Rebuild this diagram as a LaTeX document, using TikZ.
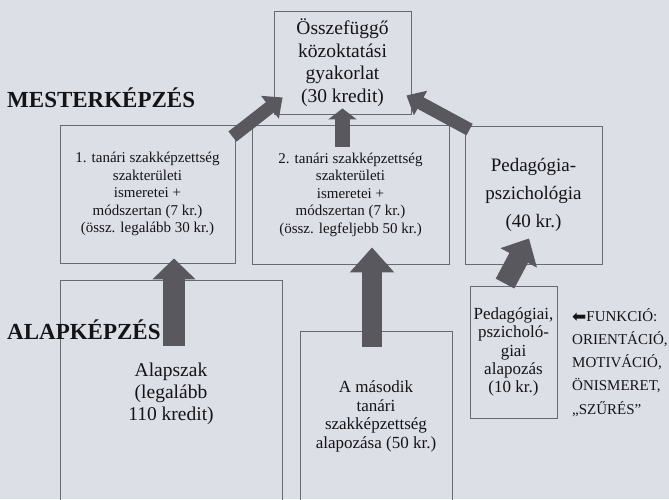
\documentclass[tikz,border=0pt]{standalone}
\usepackage{fontspec}
\setmainfont{Liberation Serif}
\newfontfamily\symfont{DejaVu Sans}
\usetikzlibrary{arrows.meta,calc,positioning}
\definecolor{paper}{RGB}{221,223,231}
\definecolor{boxline}{RGB}{105,105,112}
\definecolor{arrowgray}{RGB}{88,88,94}
\definecolor{ink}{RGB}{20,20,24}

\begin{document}
\begin{tikzpicture}[x=1pt,y=-1pt,text=ink]
		\tikzstyle{course box}=[draw=boxline,line width=0.9pt,inner sep=0pt,align=center]
		\tikzstyle{stage}=[font=\bfseries\fontsize{23}{26}\selectfont,anchor=base west,inner sep=0pt]
		\tikzstyle{funk}=[font=\fontsize{15}{18}\selectfont,anchor=base west,inner sep=0pt]
		\tikzset{fat arrow/.style n args={3}{draw=arrowgray,line width=#1,-{Triangle[width=#2,length=#3]}}}
		
		% Page, with the lower boxes running off its bottom edge
		\useasboundingbox (0,0) rectangle (669,499);
		\fill[paper] (0,0) rectangle (669,499);
		\clip (0,0) rectangle (669,499);
		
		% Draw the master level boxes
		\node[course box,minimum width=137pt,minimum height=103pt,font=\fontsize{19.5}{22.5}\selectfont]
		(gyak) at (342.5,62.5) {Összefüggő\\közoktatási\\gyakorlat\\(30 kredit)};
		\node[course box,minimum width=175pt,minimum height=138pt,font=\fontsize{15}{17.5}\selectfont]
		(tan1) at (147.5,194) {1. tanári szakképzettség\\szakterületi\\ismeretei +\\módszertan (7 kr.)\\(össz. legalább 30 kr.)};
		\node[course box,minimum width=197pt,minimum height=139pt,font=\fontsize{15}{17.5}\selectfont]
		(tan2) at (350.5,194.5) {2. tanári szakképzettség\\szakterületi\\ismeretei +\\módszertan (7 kr.)\\(össz. legfeljebb 50 kr.)};
		\node[course box,minimum width=137pt,minimum height=138pt,font=\fontsize{19}{28}\selectfont]
		(pedpszi) at (533.5,195) {Pedagógia-\\pszichológia\\(40 kr.)};
		
		% Draw the bachelor level boxes
		\node[course box,minimum width=222pt,minimum height=228pt,font=\fontsize{19.5}{22}\selectfont]
		(alapszak) at (171,394) {Alapszak\\(legalább\\110 kredit)};
		\node[course box,minimum width=152pt,minimum height=171pt,font=\fontsize{17}{18.5}\selectfont]
		(masodik) at (376,416.5) {A második\\tanári\\szakképzettség\\alapozása (50 kr.)};
		\node[course box,minimum width=87pt,minimum height=132pt,font=\fontsize{17}{18.3}\selectfont]
		(pedalap) at (513.5,352) {Pedagógiai,\\pszicholó-\\giai\\alapozás\\(10 kr.)};
		
		% Annotate the levels
		\node[stage] (mester) at (7,107) {MESTERKÉPZÉS};
		\node[stage] (alap) at (7,339) {ALAPKÉPZÉS};
		
		% The functions of the foundation course
		\foreach \txt [count=\i] in {{{\symfont\fontsize{17}{17}\selectfont\raisebox{-1pt}{⬅}}FUNKCIÓ:},{ORIENTÁCIÓ,},{MOTIVÁCIÓ,},{ÖNISMERET,},{„SZŰRÉS”}}
		\node[funk] (funk-\i) at (572,{321+23.25*(\i-1)}) {\txt};
		
		% Connect the boxes with the fat arrows
		\draw[fat arrow={13pt}{28pt}{16pt}] ($(tan1.north east)+(-3,12)$) -- ($(gyak.south west)+(9,-17)$);
		\draw[fat arrow={15pt}{28pt}{11pt}] ($(gyak.south |- tan2.north)+(0,22)$) -- ($(gyak.south)+(0,-6)$);
		\draw[fat arrow={13pt}{27pt}{16pt}] ($(pedpszi.north west)+(5,4)$) -- ($(gyak.south east)+(-5,-19)$);
		
		\draw[fat arrow={22pt}{42pt}{21pt}] ($(alapszak.north)+(3,66)$) -- ($(alapszak.north |- tan1.south)+(3,-5)$);
		\draw[fat arrow={20pt}{43pt}{25pt}] ($(masodik.north)+(-4,16)$) -- ($(masodik.north |- tan2.south)+(-4,-17)$);
		\draw[fat arrow={21pt}{40pt}{22pt}] ($(pedalap.north)+(-8.5,-2)$) -- ($(pedpszi.south)+(-4.5,-26)$);
\end{tikzpicture}
\end{document}
